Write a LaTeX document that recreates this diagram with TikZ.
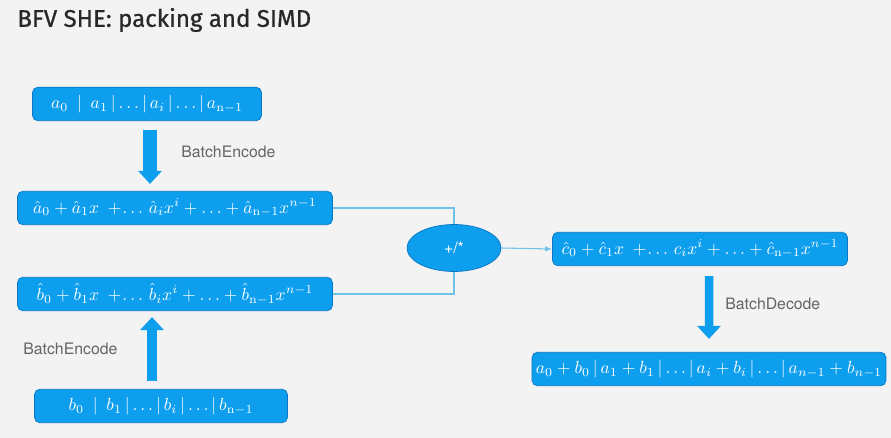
\documentclass[tikz,border=0pt]{standalone}
\usepackage{fontspec}
\setsansfont{TeX Gyre Heros}
\newfontfamily\titlefont{Fira Sans}[FakeBold=0.8]
\usetikzlibrary{arrows.meta,positioning,shapes.geometric,calc}
\definecolor{SkyBlue}{RGB}{14,158,238}
\definecolor{DeepBlue}{RGB}{10,118,196}
\definecolor{LinkBlue}{RGB}{110,195,230}
\definecolor{PaleGray}{RGB}{243,243,243}
\definecolor{LabelGray}{RGB}{100,100,100}
\definecolor{TitleGray}{RGB}{40,40,40}
\tikzset{
  vecbox/.style={draw=DeepBlue,fill=SkyBlue,rounded corners=3pt,text=white,
    minimum height=0.67cm,inner sep=0pt,font=\normalsize},
  opnode/.style={ellipse,draw=DeepBlue,fill=SkyBlue,text=white,
    minimum width=1.88cm,minimum height=0.94cm,font=\sffamily\small},
  link/.style={LinkBlue,line width=0.6pt},
  bigarrow/.style={-{Triangle[width=0.46cm,length=0.26cm]},SkyBlue,line width=0.2cm},
  steplabel/.style={font=\sffamily\small,text=LabelGray,inner sep=0pt}
}

\begin{document}
\begin{tikzpicture}[x=0.02cm,y=-0.02cm]
  \fill[PaleGray] (0,0) rectangle (891,438);
  \useasboundingbox (0,0) rectangle (891,438);
  % title
  \node[anchor=west,inner sep=0pt,font=\titlefont\fontsize{13.7}{16}\selectfont,text=TitleGray] (title) at (17,20)
    {BFV SHE: packing and SIMD};
  % vectors and polynomials
  \node[vecbox,minimum width=4.58cm] (avec) at (147,104)
    {$a_0\:\mid\:a_1\,|\ldots|\,a_i\,|\ldots|\,a_{\mathrm{n}-1}$};
  \node[vecbox,minimum width=6.3cm] (ahat) at (175,208)
    {$\hat a_0+\hat a_1x\;+\!\ldots\,\hat a_ix^i+\ldots+\hat a_{\mathrm{n}-1}x^{n-1}$};
  \node[vecbox,minimum width=6.3cm] (bhat) at (175,294)
    {$\hat b_0+\hat b_1x\;+\!\ldots\,\hat b_ix^i+\ldots+\hat b_{\mathrm{n}-1}x^{n-1}$};
  \node[vecbox,minimum width=5.06cm] (bvec) at (161,406)
    {$b_0\:\mid\:b_1\,|\ldots|\,b_i\,|\ldots|\,b_{\mathrm{n}-1}$};
  \node[opnode] (op) at (454,248) {+/*};
  \node[vecbox,minimum width=5.9cm] (chat) at (700,249)
    {$\hat c_0+\hat c_1x\;+\!\ldots\,c_ix^i+\ldots+\hat c_{\mathrm{n}-1}x^{n-1}$};
  \node[vecbox,minimum width=7.08cm] (sum) at (709,369)
    {$a_0+b_0\,|\,a_1+b_1\,|\ldots|\,a_i+b_i\,|\ldots|\,a_{n-1}+b_{n-1}$};
  % labels
  \node[steplabel,anchor=west] (enca) at (181,152) {BatchEncode};
  \node[steplabel,anchor=west] (encb) at (23,349) {BatchEncode};
  \node[steplabel,anchor=west] (dec) at (725,304) {BatchDecode};
  % arrows
  \draw[bigarrow,line width=0.27cm,shorten <=0.18cm,shorten >=0.14cm]
    ([xshift=0.06cm]avec.south) -- ([xshift=0.06cm]avec.south |- ahat.north);
  \draw[bigarrow,shorten <=0.16cm,shorten >=0.12cm]
    ([xshift=-0.18cm]bvec.north) -- ([xshift=-0.18cm]bvec.north |- bhat.south);
  \draw[bigarrow,line width=0.17cm,shorten <=0.2cm,shorten >=0.26cm]
    ([xshift=0.18cm]chat.south) -- (sum.north);
  % connectors
  \draw[link] (ahat.east) -| (op.north);
  \draw[link] (bhat.east) -| (op.south);
  \draw[link,-{Latex[length=4pt,width=3pt]}] (op.east) -- (chat.west);
\end{tikzpicture}
\end{document}
